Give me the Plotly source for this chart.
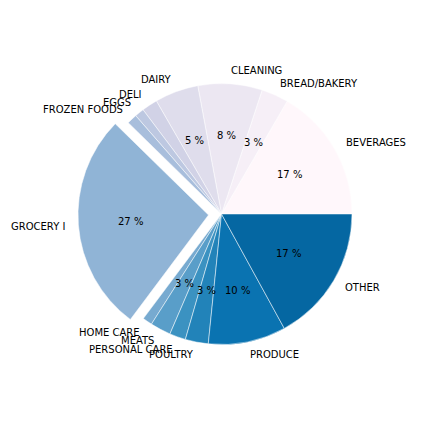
import math
import plotly.graph_objects as go
from plotly.colors import sample_colorscale

categories = ["BEVERAGES", "BREAD/BAKERY", "CLEANING", "DAIRY", "DELI", "EGGS",
              "FROZEN FOODS", "GROCERY I", "HOME CARE", "MEATS", "PERSONAL CARE",
              "POULTRY", "PRODUCE", "OTHER"]
shares = [16.6, 3.35, 7.95, 5.4, 1.95, 1.15, 1.25, 27.1, 1.2, 2.55, 2.0, 2.85, 9.6, 17.0]
explode = [0, 0, 0, 0, 0, 0, 0, 0.1, 0, 0, 0, 0, 0, 0]

PAGE_OFFSET = 8               # browser body margin
W = H = 432 - PAGE_OFFSET
cx_px, cy_px = 221.5 - PAGE_OFFSET, 214.0 - PAGE_OFFSET   # pie centre within figure
r_px = 130.5                  # pie radius
side = r_px * 2 * (1 + max(explode))

n = len(categories)
total = sum(shares)
colors = sample_colorscale("PuBu", [0.8 * i / (n - 1) for i in range(n)])

fig = go.Figure(go.Pie(
    labels=categories, values=shares, sort=False, direction="counterclockwise",
    rotation=90 - 360 * shares[0] / total, pull=explode, textinfo="none", showlegend=False,
    marker=dict(colors=colors, line=dict(color="white", width=0.5)),
    domain=dict(x=[(cx_px - side / 2) / W, (cx_px + side / 2) / W],
                y=[(H - cy_px - side / 2) / H, (H - cy_px + side / 2) / H]),
))

font = dict(family="DejaVu Sans", size=10, color="black")
cum = 0.0
for cat, v, ex in zip(categories, shares, explode):
    pct = 100 * v / total
    a0 = 360 * cum / total
    cum += v
    a1 = 360 * cum / total
    mid = math.radians((a0 + a1) / 2)
    ox = cx_px + ex * r_px * math.cos(mid)
    oy = cy_px - ex * r_px * math.sin(mid)
    lx = ox + 1.1 * r_px * math.cos(mid)
    ly = oy - 1.1 * r_px * math.sin(mid)
    fig.add_annotation(x=lx / W, y=1 - ly / H, xref="paper", yref="paper",
                       text=cat, showarrow=False, font=font, borderpad=0, borderwidth=0,
                       xanchor="left" if math.cos(mid) > 0 else "right", yanchor="middle")
    if pct >= 2.5:
        px_ = ox + 0.6 * r_px * math.cos(mid)
        py_ = oy - 0.6 * r_px * math.sin(mid)
        fig.add_annotation(x=px_ / W, y=1 - py_ / H, xref="paper", yref="paper",
                           text="%.0f %%" % pct, showarrow=False, font=font,
                           borderpad=0, borderwidth=0,
                           xanchor="center", yanchor="middle")

fig.update_layout(width=W, height=H, margin=dict(l=0, r=0, t=0, b=0),
                  paper_bgcolor="white", plot_bgcolor="white",
                  font=dict(family="DejaVu Sans"))
fig.write_html("out.html")
